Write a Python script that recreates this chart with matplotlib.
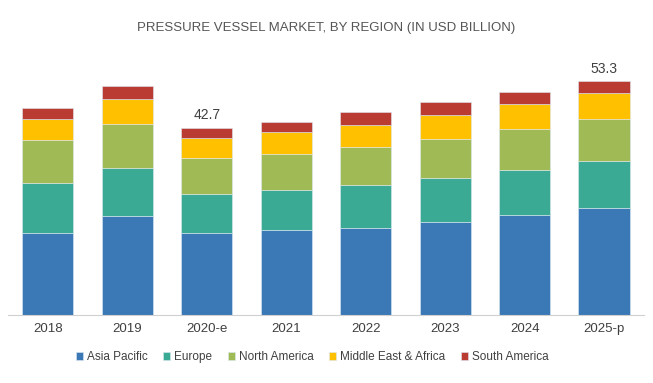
import matplotlib
matplotlib.use("Agg")
import matplotlib.pyplot as plt
import numpy as np

years = ["2018", "2019", "2020-e", "2021", "2022", "2023", "2024", "2025-p"]
regions = ["Asia Pacific", "Europe", "North America", "Middle East & Africa", "South America"]
asia_pacific = [18.8, 22.6, 18.8, 19.4, 19.8, 21.2, 22.8, 24.5]
europe = [11.4, 11.0, 8.9, 9.2, 9.9, 10.1, 10.3, 10.7]
north_america = [9.8, 10.0, 8.0, 8.2, 8.7, 8.9, 9.4, 9.6]
middle_east_africa = [4.7, 5.6, 4.7, 5.0, 5.0, 5.4, 5.6, 5.8]
south_america = [2.5, 3.0, 2.3, 2.3, 3.0, 3.0, 2.7, 2.7]
totals_shown = {2: "42.7", 7: "53.3"}

colors = ["#3a78b6", "#3aaa95", "#a0ba56", "#ffc000", "#ba3b31"]
series = [asia_pacific, europe, north_america, middle_east_africa, south_america]

plt.rcParams['font.family'] = ['Liberation Sans', 'DejaVu Sans']

fig = plt.figure(figsize=(6.53, 3.83), dpi=100)
ax = fig.add_axes([0.0123, 0.1775, 0.9737, 0.687])

x = np.arange(len(years))
bottom = np.zeros(len(years))
for name, vals, c in zip(regions, series, colors):
    ax.bar(x, vals, width=0.645, bottom=bottom, color=c, label=name,
           edgecolor="#dce8f2", linewidth=0.4)
    bottom += np.array(vals)

# only two totals are labelled in the original
for i, txt in totals_shown.items():
    ax.text(x[i], bottom[i] + 1.3, txt, ha="center", va="bottom",
            fontsize=10, color="#404040")

ax.set_xlim(-0.5, len(years) - 0.5)
ax.set_ylim(0, 60)
ax.set_yticks([])
ax.set_xticks(x)
ax.set_xticklabels(years, fontsize=9.5, color="#404040")
ax.tick_params(axis="x", length=0, pad=6)
for s in ["top", "right", "left"]:
    ax.spines[s].set_visible(False)
ax.spines["bottom"].set_color("#d0d0d0")

fig.text(0.5, 0.927, "PRESSURE VESSEL MARKET, BY REGION (IN USD BILLION)",
         ha="center", va="center", fontsize=9.5, color="#555555")

leg = fig.legend(loc="center", bbox_to_anchor=(0.478, 0.068), ncol=5, frameon=False,
                 fontsize=8.5, handlelength=0.6, handleheight=0.6, handletextpad=0.3,
                 columnspacing=1.35)
for t in leg.get_texts():
    t.set_color("#404040")

fig.savefig("out.png", dpi=100)
